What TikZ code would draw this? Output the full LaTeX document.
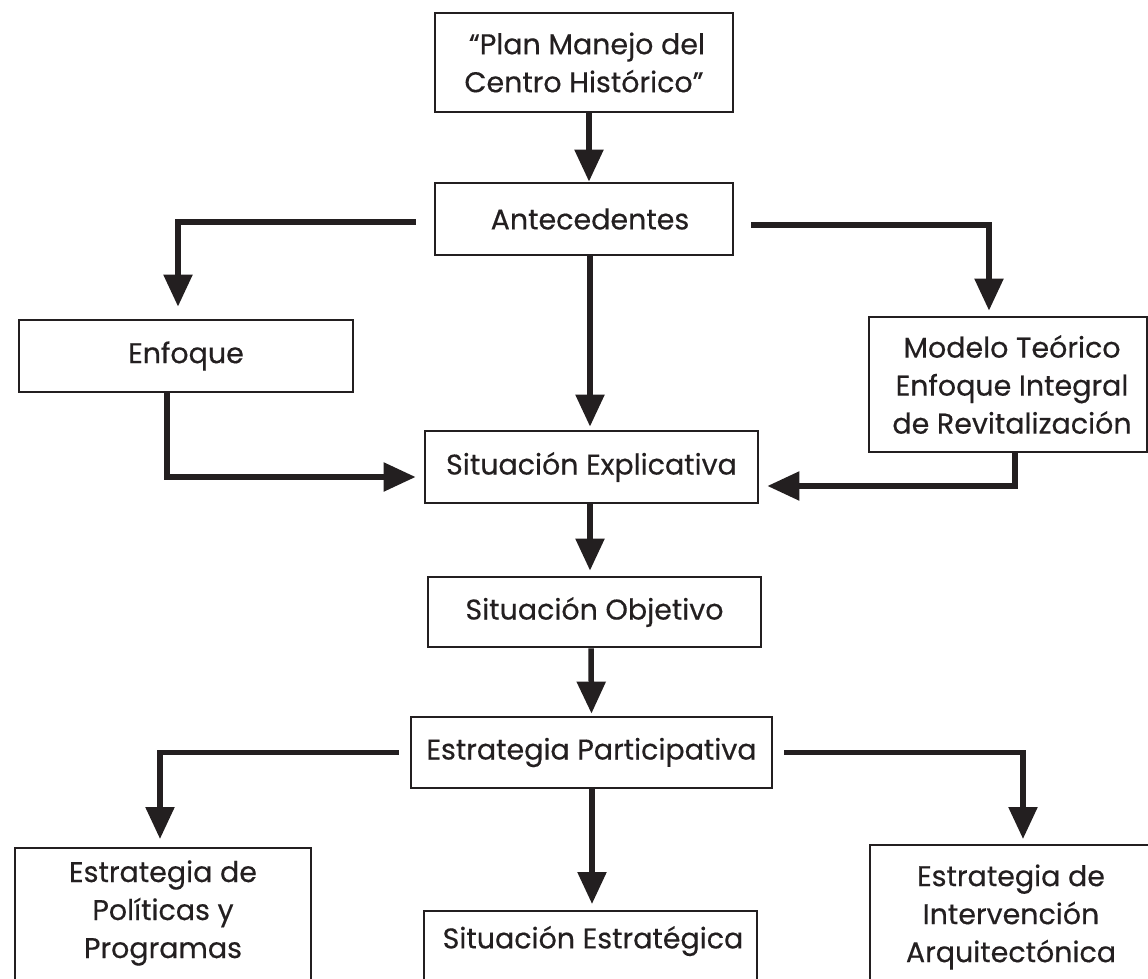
\documentclass[tikz,border=0pt]{standalone}
\usepackage{fontspec}
\setmainfont{Poppins}[FakeBold=0.4]
\usetikzlibrary{arrows.meta}
\definecolor{ink}{HTML}{231F20}
\begin{document}
\begin{tikzpicture}[x=1pt,y=-1pt,
  box/.style={draw=ink,line width=2.8pt,inner sep=0pt,align=center,text=ink},
  lbl/.style={inner sep=0pt,align=center,text=ink},
  openbox/.style={draw=ink,line width=2.8pt},
  arr/.style={draw=ink,line width=5.5pt,-{Triangle[width=28pt,length=32pt]}},
  every node/.style={font=\fontsize{28.5}{38}\selectfont}]
\useasboundingbox (0,0) rectangle (1148,979);
\fill[white] (0,0) rectangle (1148,979);
% boxes
\node[box,minimum width=298pt,minimum height=99pt] (plan) at (584,62.5) {\hspace*{6pt}“Plan Manejo del\\Centro Histórico”};
\node[box,minimum width=298pt,minimum height=72pt] (ante) at (584,219) {\hspace*{12pt}Antecedentes};
\node[box,minimum width=334pt,minimum height=72pt] (enf) at (186,356) {Enfoque};
\node[box,minimum width=278pt,minimum height=135pt] (mod) at (1008,384.5) {\hspace*{8pt}Modelo Teórico\\\hspace*{8pt}Enfoque Integral\\\hspace*{8pt}de Revitalización};
\node[box,minimum width=333pt,minimum height=72pt] (sexp) at (591.5,467) {Situación Explicativa};
\node[box,minimum width=333pt,minimum height=70pt] (sobj) at (594.5,612) {Situación Objetivo};
\node[box,minimum width=361pt,minimum height=71pt] (ep) at (591.5,752.5) {Estrategia Participativa};
% open-bottom boxes
\draw[openbox] (15,995) |- (311,848) -- (311,995);
\node[lbl] (pol) at (163,913) {Estrategia de\\Políticas y\\Programas};
\coordinate (poltop) at (160,848);
\draw[openbox] (424,995) |- (757,911) -- (757,995);
\node[lbl] (sest) at (593,941) {Situación Estratégica};
\coordinate (sesttop) at (592,911);
\draw[openbox] (870,995) |- (1160,845);
\node[lbl] (int) at (1011,917) {Estrategia de\\Intervención\\Arquitectónica};
\coordinate (inttop) at (1023,845);
% connectors
\draw[arr] ([xshift=5pt]plan.south) -- ([xshift=5pt]ante.north);
\draw[arr,shorten >=12pt] ([xshift=-18pt,yshift=-3pt]ante.west) -| ([xshift=-8pt]enf.north);
\draw[arr,shorten >=5pt] ([xshift=17pt,yshift=-6pt]ante.east) -| ([xshift=-19pt]mod.north);
\draw[arr,shorten >=3pt] ([xshift=6pt]ante.south) -- ([xshift=-1.5pt]sexp.north);
\draw[arr,shorten >=8pt] ([xshift=-19pt]enf.south) |- ([yshift=-10pt]sexp.west);
\draw[arr,shorten >=8pt] ([xshift=7pt]mod.south) |- ([yshift=-19pt]sexp.east);
\draw[arr,shorten >=5pt] ([xshift=-1.5pt]sexp.south) -- ([xshift=-4.5pt]sobj.north);
\draw[arr,shorten >=2pt] ([xshift=-3.5pt]sobj.south) -- (ep.north);
\draw[arr,shorten >=9pt] ([xshift=-11pt]ep.west) -| (poltop);
\draw[arr,shorten >=6pt] ([xshift=11pt]ep.east) -| (inttop);
\draw[arr,shorten >=7pt] (ep.south -| sesttop) -- (sesttop);
\end{tikzpicture}
\end{document}
